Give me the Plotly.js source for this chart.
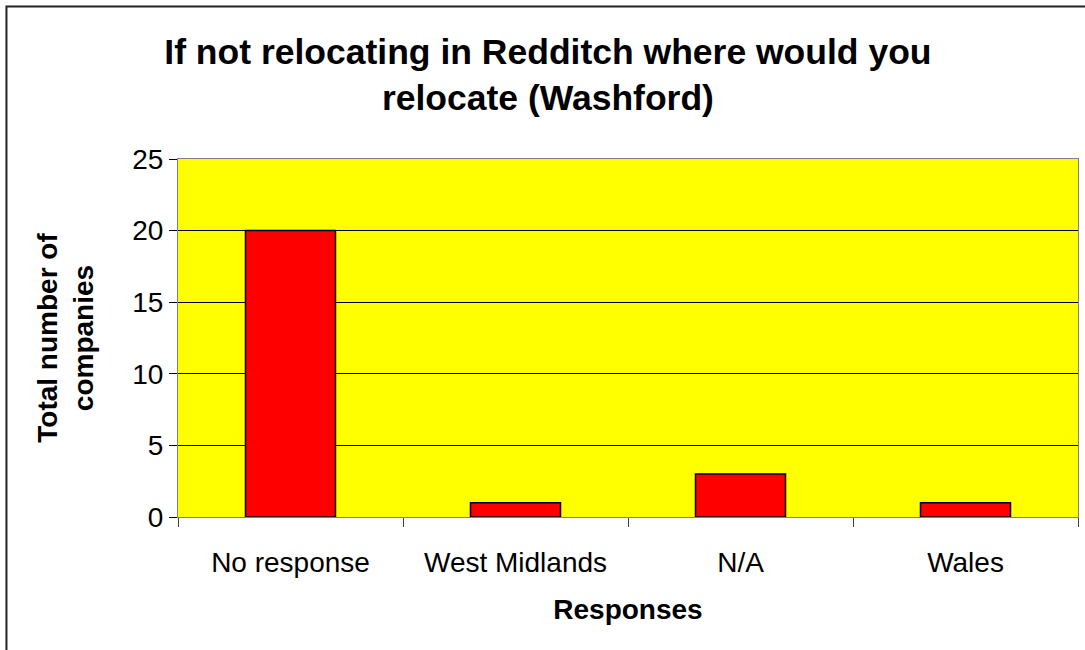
<!DOCTYPE html>
<html>
<head>
<meta charset="utf-8">
<script src="https://cdn.plot.ly/plotly-3.0.1.min.js"></script>
<style>
  html, body { margin: 0; padding: 0; background: #ffffff; }
  #chart { width: 1085px; height: 650px; }
</style>
</head>
<body>
<div id="chart"></div>
<script>
const categories = ["No response", "West Midlands", "N/A", "Wales"];
const companies = [20, 1, 3, 1];
const yTicks = [0, 5, 10, 15, 20, 25];

const titleText = "If not relocating in Redditch where would you<br>relocate (Washford)";
const xTitle = "Responses";
const yTitle = "Total number of<br>companies";

const trace = {
  type: "bar",
  x: categories,
  y: companies,
  width: 0.4,
  marker: { color: "#FF0000", line: { color: "#000000", width: 1.5 } },
  hoverinfo: "x+y"
};

const layout = {
  width: 1085,
  height: 650,
  margin: { l: 178, r: 7, t: 159, b: 133 },
  paper_bgcolor: "#FFFFFF",
  plot_bgcolor: "#FFFF00",
  showlegend: false,
  font: { family: "Liberation Sans, Arial, sans-serif", color: "#000000" },
  title: {
    text: titleText,
    font: { family: "Liberation Sans, Arial, sans-serif", size: 35.5, color: "#000000", weight: "bold" },
    xref: "container", x: 0.505, xanchor: "center",
    yref: "container", y: 0.902, yanchor: "top"
  },
  xaxis: {
    type: "category",
    tickson: "boundaries",
    ticks: "outside",
    ticklen: 9,
    tickcolor: "#404040",
    tickwidth: 1,
    showline: true,
    linecolor: "#808080",
    linewidth: 1,
    mirror: true,
    showgrid: false,
    tickfont: { size: 28, color: "#000000" },
    ticklabelstandoff: 20,
    title: { text: xTitle, font: { size: 28, weight: "bold", color: "#000000" }, standoff: 22 }
  },
  yaxis: {
    range: [0, 25],
    tickvals: yTicks,
    ticks: "outside",
    ticklen: 8,
    tickcolor: "#000000",
    tickwidth: 1,
    showline: true,
    linecolor: "#808080",
    linewidth: 1,
    mirror: true,
    showgrid: true,
    gridcolor: "#000000",
    gridwidth: 1,
    zeroline: true,
    zerolinecolor: "#000000",
    zerolinewidth: 1,
    tickfont: { size: 28, color: "#000000" },
    title: { text: yTitle, font: { size: 28, weight: "bold", color: "#000000" }, standoff: 30 }
  },
  shapes: [{
    type: "rect",
    xref: "paper", yref: "paper",
    x0: -0.1906, x1: 1.03, y0: -0.42, y1: 1.426,
    line: { color: "#222222", width: 2 },
    fillcolor: "rgba(0,0,0,0)",
    layer: "below"
  }]
};

Plotly.newPlot("chart", [trace], layout, { displayModeBar: false, staticPlot: true });
</script>
</body>
</html>
